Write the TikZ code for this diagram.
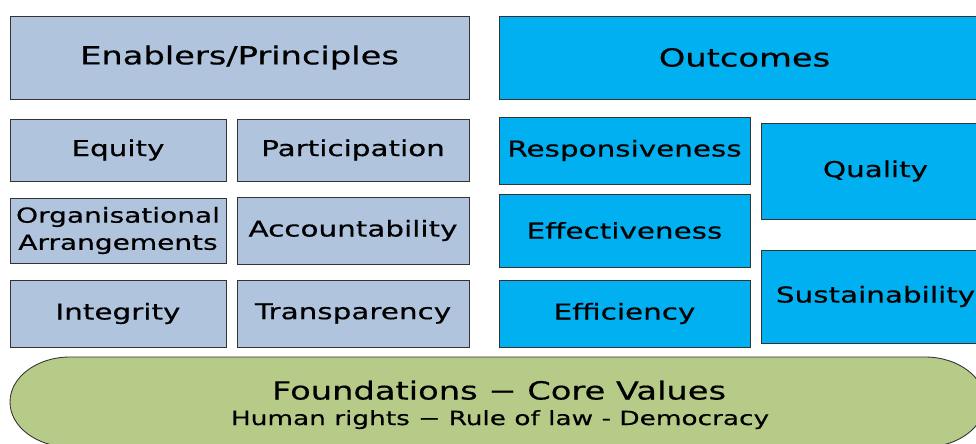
\documentclass[tikz,border=0pt]{standalone}
\usepackage{fontspec}
\setmainfont{DejaVu Sans}[FakeStretch=1.35, FakeBold=0.5]
\definecolor{enablerblue}{RGB}{176,196,222}
\definecolor{outcomeblue}{RGB}{0,176,240}
\definecolor{basegreen}{RGB}{183,203,137}
\begin{document}
\begin{tikzpicture}[
    box/.style={draw=black!80, line width=0.5pt, inner sep=0pt, align=center,
      font=\fontsize{12.4}{15.4}\selectfont},
    enabler/.style={box, fill=enablerblue},
    outcome/.style={box, fill=outcomeblue},
    head/.style={font=\fontsize{14.2}{17}\selectfont}]
  \useasboundingbox (0,0) rectangle (19.52,-8.86);

  \node[enabler, head, minimum width=9.18cm, minimum height=1.66cm] (enablers) at (4.79,-1.15) {Enablers/Principles};
  \node[outcome, head, minimum width=9.82cm, minimum height=1.66cm] (outcomes) at (14.89,-1.15) {Outcomes};

  \node[enabler, minimum width=4.32cm, minimum height=1.24cm] (equity) at (2.36,-3.0) {Equity};
  \node[enabler, minimum width=4.64cm, minimum height=1.24cm] (participation) at (7.06,-3.0) {Participation};
  \node[enabler, font=\fontsize{11.8}{15.4}\selectfont, minimum width=4.32cm, minimum height=1.30cm] (organisation) at (2.36,-4.61) {Organisational\\Arrangements};
  \node[enabler, minimum width=4.64cm, minimum height=1.34cm] (accountability) at (7.06,-4.61) {Accountability};
  \node[enabler, minimum width=4.32cm, minimum height=1.34cm] (integrity) at (2.36,-6.27) {Integrity};
  \node[enabler, minimum width=4.64cm, minimum height=1.34cm] (transparency) at (7.06,-6.27) {Transparency};

  \node[outcome, minimum width=5.02cm, minimum height=1.34cm] (responsiveness) at (12.49,-3.01) {Responsiveness};
  \node[outcome, minimum width=5.02cm, minimum height=1.46cm] (effectiveness) at (12.49,-4.61) {Effectiveness};
  \node[outcome, minimum width=5.02cm, minimum height=1.34cm] (efficiency) at (12.49,-6.27) {Efficiency};
  \node[outcome, minimum width=4.58cm, minimum height=1.92cm] (quality) at (17.51,-3.42) {Quality};
  \node[outcome, minimum width=4.58cm, minimum height=1.86cm] (sustainability) at (17.51,-5.93) {Sustainability};

  % foundations
  \draw[fill=basegreen, draw=black!80, line width=0.5pt] (1.4,-7.14) -- (18.5,-7.14)
    arc (90:-90:1.2 and 0.9) -- (1.4,-8.94) arc (270:90:1.2 and 0.9) -- cycle;
  \node[anchor=base, font=\fontsize{14.2}{17}\selectfont] (core) at (9.98,-7.99) {Foundations − Core Values};
  \node[anchor=base, font=\fontsize{11.1}{13}\selectfont] (values) at (10.0,-8.5) {Human rights − Rule of law - Democracy};
\end{tikzpicture}
\end{document}
